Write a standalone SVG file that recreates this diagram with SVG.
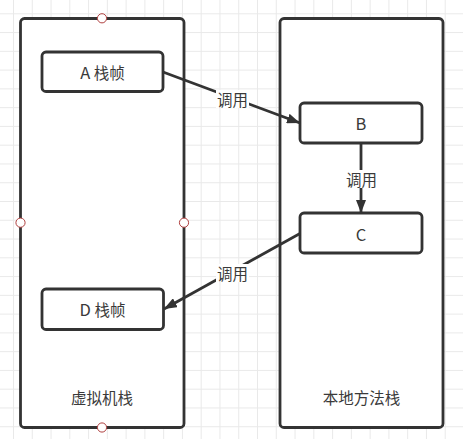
<svg xmlns="http://www.w3.org/2000/svg" width="463" height="439" viewBox="0 0 463 439">
<defs>
<pattern id="grid" x="13" y="13.3" width="18.77" height="18.77" patternUnits="userSpaceOnUse">
<path d="M0 0.5H18.77M0.5 0V18.77" fill="none" stroke="#e9e9e9" stroke-width="1"/>
</pattern>
<marker id="arr" viewBox="0 0 13 10" refX="13" refY="5" markerWidth="13" markerHeight="10" markerUnits="userSpaceOnUse" orient="auto">
<path d="M0 0L13 5L0 10Z" fill="#333"/>
</marker>
</defs>
<style>
.cont{fill:#fff;stroke:#333;stroke-width:2.8}
.box{fill:#fff;stroke:#333;stroke-width:2.8}
.t{font-family:"Noto Sans CJK SC","Microsoft YaHei",sans-serif;font-size:15.5px;fill:#3a3a3a;text-anchor:middle;dominant-baseline:central}
.lat{font-size:16.5px}
.edge{fill:none;stroke:#333;stroke-width:2.8;marker-end:url(#arr)}
.lbg{fill:#fff}
.pt{fill:#fff;stroke:#b0403f;stroke-width:1}
</style>
<rect width="463" height="439" fill="#fff"/>
<rect width="463" height="439" fill="url(#grid)"/>
<g id="jvm-stack">
<rect class="cont" x="20.5" y="18.5" width="163.5" height="409" rx="4"/>
<text class="t" x="102" y="397">虚拟机栈</text>
</g>
<g id="native-stack">
<rect class="cont" x="280" y="18.5" width="163" height="409" rx="4"/>
<text class="t" x="361.5" y="397">本地方法栈</text>
</g>
<g id="frame-a">
<rect class="box" x="42" y="52" width="121" height="39.5" rx="4"/>
<text class="t" x="102.5" y="72"><tspan class="lat">A</tspan> 栈帧</text>
</g>
<g id="frame-d">
<rect class="box" x="42" y="289" width="121.5" height="40.5" rx="4"/>
<text class="t" x="102.5" y="309"><tspan class="lat">D</tspan> 栈帧</text>
</g>
<g id="node-b">
<rect class="box" x="300" y="103" width="122" height="40" rx="4"/>
<text class="t lat" x="361" y="123">B</text>
</g>
<g id="node-c">
<rect class="box" x="300" y="213" width="122" height="40" rx="4"/>
<text class="t lat" x="361" y="233.5">C</text>
</g>
<g id="connectors">
<path class="edge" d="M163 72L300 123"/>
<path class="edge" d="M361 143V213"/>
<path class="edge" d="M300 233.5L164 309"/>
<rect class="lbg" x="216" y="90" width="33" height="18"/>
<text class="t" x="232.5" y="99">调用</text>
<rect class="lbg" x="345" y="170" width="33" height="18"/>
<text class="t" x="361.5" y="179">调用</text>
<rect class="lbg" x="216" y="264" width="33" height="18"/>
<text class="t" x="232.5" y="273">调用</text>
</g>
<g id="handles">
<circle class="pt" cx="102" cy="18.3" r="4.6"/>
<circle class="pt" cx="20.5" cy="222.7" r="4.6"/>
<circle class="pt" cx="184" cy="222.7" r="4.6"/>
<circle class="pt" cx="102" cy="427.5" r="4.6"/>
</g>
</svg>
